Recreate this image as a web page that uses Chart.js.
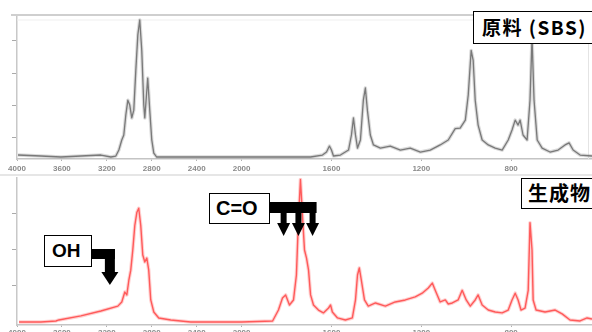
<!DOCTYPE html>
<html><head><meta charset="utf-8">
<script src="https://cdn.jsdelivr.net/npm/chart.js@4/dist/chart.umd.min.js"></script>
<style>
html,body{margin:0;padding:0;background:#fff;width:592px;height:332px;overflow:hidden;position:relative;}
canvas{position:absolute;left:0;}
#top{top:0;}
#bot{top:175px;}
#sep{position:absolute;left:0;top:174px;width:592px;height:2px;background:#e6e6e6;}
.lbl{position:absolute;background:#fff;border:1.5px solid #000;font-weight:bold;color:#000;box-sizing:border-box;white-space:nowrap;}
</style></head><body>
<canvas id="top" width="592" height="178" style="width:592px;height:178px"></canvas>
<div id="sep"></div>
<canvas id="bot" width="592" height="157" style="width:592px;height:157px"></canvas>
<div class="lbl" style="left:473px;top:11px;width:125px;height:33px;font-family:'Noto Sans CJK JP',sans-serif;font-size:19px;line-height:30px;padding-left:8px;letter-spacing:1.5px">原料 (SBS)</div>
<div class="lbl" style="left:521px;top:178px;width:80px;height:31px;font-family:'Noto Sans CJK JP',sans-serif;font-size:20px;line-height:28px;padding-left:6px;letter-spacing:1px">生成物</div>
<div class="lbl" style="left:209px;top:193px;width:61px;height:31px;font-family:'Liberation Sans',Arial,sans-serif;font-size:20px;line-height:28px;padding-left:6px">C=O</div>
<div class="lbl" style="left:44px;top:235px;width:48px;height:32px;font-family:'Liberation Sans',Arial,sans-serif;font-size:19px;line-height:29px;padding-left:7px">OH</div>
<script>
// ---------- data (wavenumber cm-1, relative absorbance %) ----------
const tickWavenumbers = [4000, 3600, 3200, 2800, 2400, 2000, 1600, 1200, 800];
const tickLabels = ["4000", "3600", "3200", "2800", "2400", "2000", "1600", "1200", "800"];

const rawWavenumbers = [3991,3787,3609,3431,3253,3164,3120,3093,3067,3049,3031,3013,2996,2978,2960,2942,2924,2907,2889,2871,2862,2844,2836,2818,2800,2782,2756,2631,2364,2000,1827,1693,1640,1622,1609,1600,1591,1560,1524,1511,1502,1493,1484,1471,1458,1449,1440,1427,1413,1382,1338,1293,1249,1204,1160,1116,1080,1049,1027,1004,991,978,969,960,947,929,902,871,840,813,796,782,769,760,747,729,716,707,698,684,662,627,591,560,542,524,493,440];
const rawAbsorbance = [1.4,0.7,0,0.7,1.4,0,0.7,4.9,12,15.5,29.6,40,36.6,27.5,33,61,86,96.5,75,36.6,27.5,47,55.6,33,12,2.8,0,0,0,0,0,0,1.4,3.5,7.7,4.9,0.7,1.4,4.9,15.5,27.5,15.5,6.3,12,40,48.6,33,15.5,8.5,6.3,7.7,4.9,6.3,3.5,4.9,8.5,12,20,20.4,26,43.7,75,68,40,22.5,12,8.5,6.3,4.9,12,19,26,22.5,26,15.5,12,40,84,40,12,6.3,3.5,4.9,8.5,10,4.9,1.4,0.7];

const productWavenumbers = [3982,3787,3653,3627,3431,3253,3102,3067,3040,3022,3004,2987,2969,2951,2933,2916,2898,2880,2862,2844,2827,2809,2782,2738,2631,2453,2000,1862,1836,1818,1804,1787,1769,1756,1747,1738,1729,1720,1711,1702,1693,1680,1658,1636,1613,1604,1596,1573,1538,1507,1493,1484,1476,1467,1453,1436,1404,1360,1316,1271,1227,1196,1169,1151,1138,1116,1093,1080,1062,1036,1018,1000,982,960,947,929,902,871,840,813,796,782,769,756,738,724,716,707,702,689,649,604,573,538,493,462,440];
const productAbsorbance = [0,0,0.7,1.4,4.2,7.6,11,13.9,20.8,18.8,29,36,50,67,76,79,67,46.5,41.7,44.4,36,15.3,6.9,2.8,1.4,0,0,0.7,8.3,16.7,18.8,11.8,15.3,32.6,70.8,99,74,50,44.4,36,18.8,11.8,8.3,6.3,9.7,11.8,6.9,2.8,1.4,2.8,15.3,32.6,37.5,29,15.3,11,13.2,11,13.9,15.3,17.4,20,23.6,27,22,13.9,15.3,12.5,13.2,15.3,22,15.3,11,15.3,18.8,11.8,8.3,6.9,6.3,8.3,15.3,20,15.3,8.3,9.7,22,69,50,15.3,8.3,6.9,8.3,5.6,1.4,0.7,2.8,2.1];

const carbonylArrowWn = [1813, 1747, 1684];
const hydroxylArrowWn = 3173;

// ---------- IR axis: 2x expansion below 2000 cm-1 ----------
const LinearScale = Chart.registry.getScale('linear');
const BREAK_WN = 2000;
function uOf(wn){ return wn >= BREAK_WN ? -(wn - BREAK_WN) / 2 : (BREAK_WN - wn); }
function wnOf(u){ return u <= 0 ? BREAK_WN - 2 * u : BREAK_WN - u; }
class IRScale extends LinearScale {
  getPixelForValue(v){
    const u0 = uOf(this.max), u1 = uOf(this.min);
    return this.left + (uOf(v) - u0) / (u1 - u0) * this.width;
  }
  getValueForPixel(p){
    const u0 = uOf(this.max), u1 = uOf(this.min);
    return wnOf(u0 + (p - this.left) / this.width * (u1 - u0));
  }
}
IRScale.id = 'irscale';
IRScale.defaults = LinearScale.defaults;
Chart.register(IRScale);

function pts(xs, ys){ return xs.map((x, i) => ({x: x, y: ys[i]})); }

function makeOptions(cfg){
  return {
    responsive: false,
    animation: false,
    events: [],
    layout: {padding: {top: cfg.padTop, left: 0, right: 0, bottom: 0}},
    plugins: {legend: {display: false}, tooltip: {enabled: false}},
    elements: {point: {radius: 0}, line: {tension: 0, borderJoinStyle: 'round'}},
    scales: {
      x: {
        type: 'irscale', min: 440, max: 4000,
        afterBuildTicks: s => { s.ticks = tickWavenumbers.map(v => ({value: v})); },
        afterFit: s => { s.height = cfg.xHeight; },
        ticks: {
          autoSkip: false, maxRotation: 0, minRotation: 0, padding: cfg.tickPad,
          color: '#8a8a8a', font: {family: 'Liberation Sans', size: 8, weight: 'bold'},
          callback: (v, i) => tickLabels[i]
        },
        grid: {drawOnChartArea: false, tickLength: 2, color: '#b0b0b0'},
        border: {display: true, color: '#c4c4c4', width: 1.5}
      },
      y: {
        type: 'linear', min: cfg.yMin, max: 100,
        afterBuildTicks: s => { s.ticks = cfg.yTicks.map(v => ({value: v})); },
        afterFit: s => { s.width = 17; },
        ticks: {display: false},
        grid: {drawOnChartArea: false, tickLength: 5, color: '#aaaaaa'},
        border: {display: true, color: '#c8c8c8', width: 1.5}
      }
    }
  };
}

const frameTop = {
  id: 'frameTop',
  beforeDatasetsDraw(chart){
    const c = chart.ctx, a = chart.chartArea;
    c.save();
    c.strokeStyle = '#cfcfcf'; c.lineWidth = 2;
    c.beginPath(); c.moveTo(a.left - 6, a.top); c.lineTo(a.right, a.top); c.stroke();
    c.strokeStyle = '#efefef'; c.lineWidth = 1;
    c.beginPath(); c.moveTo(a.left, a.top + 5); c.lineTo(a.right, a.top + 5); c.stroke();
    c.strokeStyle = '#e4e4e4';
    c.beginPath(); c.moveTo(588.5, a.top); c.lineTo(588.5, a.bottom); c.stroke();
    c.restore();
  }
};

new Chart(document.getElementById('top'), {
  type: 'line',
  data: {datasets: [
    {data: pts(rawWavenumbers, rawAbsorbance), borderColor: 'rgba(150,150,150,0.35)', borderWidth: 3.5},
    {data: pts(rawWavenumbers, rawAbsorbance), borderColor: '#6a6a6a', borderWidth: 1.3}
  ]},
  options: makeOptions({padTop: 15, xHeight: 19, tickPad: 3, yMin: -1.4, yTicks: [14, 36.6, 59, 81.7]}),
  plugins: [frameTop]
});

const arrows = {
  id: 'arrows',
  afterDraw(chart){
    const c = chart.ctx, xs = chart.scales.x, off = 175;
    c.save(); c.fillStyle = '#000';
    // C=O arrows
    const px = carbonylArrowWn.map(w => xs.getPixelForValue(w));
    c.fillRect(269, 202 - off, px[2] + 4 - 269, 11);
    px.forEach(x => {
      c.fillRect(x - 3, 212 - off, 6, 12);
      c.beginPath(); c.moveTo(x - 6.5, 223 - off); c.lineTo(x + 6.5, 223 - off); c.lineTo(x, 236 - off); c.closePath(); c.fill();
    });
    // OH arrow
    const hx = xs.getPixelForValue(hydroxylArrowWn);
    c.fillRect(91, 249 - off, hx + 5 - 91, 10);
    c.fillRect(hx - 5, 249 - off, 10, 24);
    c.beginPath(); c.moveTo(hx - 8.5, 272 - off); c.lineTo(hx + 8.5, 272 - off); c.lineTo(hx, 285 - off); c.closePath(); c.fill();
    c.restore();
  }
};

new Chart(document.getElementById('bot'), {
  type: 'line',
  data: {datasets: [
    {data: pts(productWavenumbers, productAbsorbance), borderColor: 'rgba(255,120,120,0.35)', borderWidth: 3.5},
    {data: pts(productWavenumbers, productAbsorbance), borderColor: '#ff4a4a', borderWidth: 1.4}
  ]},
  options: makeOptions({padTop: 3, xHeight: 7, tickPad: 1, yMin: -2.1, yTicks: [25, 50, 75]}),
  plugins: [arrows]
});
</script>
</body></html>
